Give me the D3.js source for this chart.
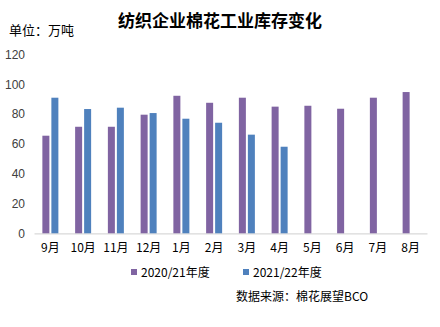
<!DOCTYPE html>
<html><head><meta charset="utf-8">
<script src="https://cdn.jsdelivr.net/npm/d3@7"></script>
<style>body{margin:0;background:#fff}svg{display:block}text{font-family:"Noto Sans CJK SC","Noto Sans",sans-serif}</style>
</head><body>
<script>
const categories = ["9月","10月","11月","12月","1月","2月","3月","4月","5月","6月","7月","8月"];
const series2021 = [65.5,71.5,71.5,79.6,92.3,87.6,91,85,85.6,83.6,91,94.8];
const series2122 = [91,83.4,84.3,80.7,76.9,74.2,66.2,58.1,null,null,null,null];
const seriesNames = ["2020/21年度","2021/22年度"];
const colors = ["#8064A2","#4F81BD"];
const yTicks = [0,20,40,60,80,100,120];

const W=440,H=327;
const svg=d3.select("body").append("svg").attr("width",W).attr("height",H);
const x=d3.scaleBand().domain(categories).range([34,427]);
const y=d3.scaleLinear().domain([0,120]).range([233.3,54.5]);

svg.append("text").attr("x",220).attr("y",27).attr("text-anchor","middle")
 .attr("font-size",17).attr("font-weight","bold").attr("fill","#000").text("纺织企业棉花工业库存变化");
svg.append("text").attr("x",9).attr("y",35).attr("font-size",13).attr("fill","#000").text("单位：万吨");

const yAxis=svg.append("g").attr("transform","translate(25,0)")
 .call(d3.axisLeft(y).tickValues(yTicks).tickSize(0).tickPadding(0));
yAxis.select(".domain").remove();
yAxis.selectAll("text").attr("font-size",12).attr("fill","#404040").style("font-family","'Liberation Sans',Arial,sans-serif");

const xAxis=svg.append("g").attr("transform","translate(0,233.3)")
 .call(d3.axisBottom(x).tickSize(0).tickPadding(10));
xAxis.select(".domain").attr("stroke","#d9d9d9").attr("stroke-width",1.2);
xAxis.selectAll("text").attr("font-size",12).attr("fill","#000");

const bw=7, gap=2;
const data=[series2021,series2122];
data.forEach((s,i)=>{
  svg.append("g").selectAll("rect").data(categories.map((c,j)=>({c,v:s[j]})).filter(d=>d.v!=null))
   .join("rect")
   .attr("x",d=>x(d.c)+x.bandwidth()/2-bw-gap/2+i*(bw+gap))
   .attr("width",bw)
   .attr("y",d=>y(d.v)).attr("height",d=>y(0)-y(d.v))
   .attr("fill",colors[i]);
});

const legX=[131,243];
seriesNames.forEach((n,i)=>{
  svg.append("rect").attr("x",legX[i]).attr("y",269).attr("width",6).attr("height",6).attr("fill",colors[i]);
  svg.append("text").attr("x",legX[i]+10).attr("y",277).attr("font-size",12).attr("fill","#000").text(n);
});
svg.append("text").attr("x",236).attr("y",301).attr("font-size",12).attr("fill","#000").text("数据来源：棉花展望BCO");
</script>
</body></html>
